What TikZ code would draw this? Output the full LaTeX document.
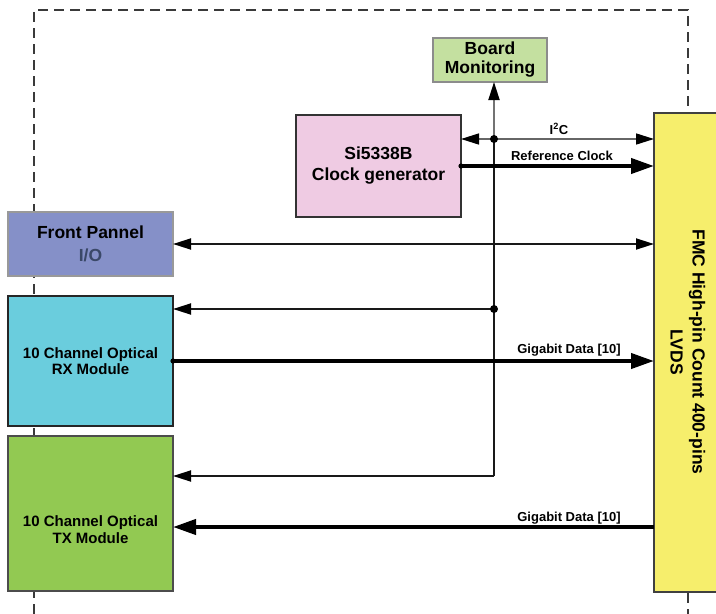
\documentclass[tikz,border=0pt]{standalone}
\usepackage{fontspec}
\setmainfont{Liberation Sans}
\usetikzlibrary{arrows.meta,calc}

\definecolor{monfill}{HTML}{C4E0A0}
\definecolor{clkfill}{HTML}{EFCBE3}
\definecolor{fpfill}{HTML}{8590C8}
\definecolor{rxfill}{HTML}{6ACDDD}
\definecolor{txfill}{HTML}{92C952}
\definecolor{fmcfill}{HTML}{F6EE6C}
\definecolor{iotext}{HTML}{3A4868}
\definecolor{framegray}{HTML}{3A3A3A}

\tikzset{
  blk/.style={draw, line width=1.3pt, inner sep=0pt, outer sep=0pt, anchor=north west,
              align=center, font=\fontsize{17.5}{21}\selectfont\bfseries},
  small/.style={font=\fontsize{15}{16.5}\selectfont\bfseries, align=center},
  lbl/.style={font=\fontsize{13}{15}\selectfont\bfseries, inner sep=0pt},
  tipthin/.style={-{Triangle[length=18pt,width=11pt,color=black]}},
  tipboth/.style={{Triangle[length=18pt,width=11pt,color=black]}-{Triangle[length=18pt,width=11pt,color=black]}},
  tipthick/.style={-{Triangle[length=23pt,width=15pt]}},
  conn/.style={line width=1.8pt, draw=black!90},
  fat/.style={line width=4pt, draw=black},
  frame/.style={draw=framegray, line width=1.6pt, dash pattern=on 10pt off 6pt}
}

\begin{document}
\begin{tikzpicture}[x=1pt,y=-1pt]
\useasboundingbox (0,0) rectangle (716,614);

% dashed board outline
\draw[frame] (34,12) -- (34,614);
\draw[frame] (38,10) -- (688,10) -- (688,113);
\draw[frame] (688,593) -- (688,614);

% blocks
\node[blk, draw=black!45, fill=monfill, minimum width=114pt, minimum height=44pt] (bm) at (433,38) {Board\\[-2pt]Monitoring};
\node[blk, draw=black!80, fill=clkfill, minimum width=165pt, minimum height=102pt] (clk) at (296,115) {Si5338B\\Clock generator};
\node[blk, draw=black!40, fill=fpfill, minimum width=165pt, minimum height=64pt] (fp) at (8,212) {Front Pannel\\[2pt]\textcolor{iotext}{I/O}};
\node[blk, draw=black!85, fill=rxfill, minimum width=165pt, minimum height=130pt, small] (rx) at (8,296) {10 Channel Optical\\RX Module};
\node[blk, draw=black!70, fill=txfill, minimum width=165pt, minimum height=155pt] (tx) at (8,436) {};
\node[small] (txtext) at (90.5,529.5) {10 Channel Optical\\TX Module};
\node[blk, draw=black!75, fill=fmcfill, minimum width=66pt, minimum height=479pt] (fmc) at (654,113) {};
\node[rotate=-90, align=center, font=\fontsize{17.5}{22}\selectfont\bfseries] (fmctext) at (688,352) {FMC High-pin Count 400-pins\\LVDS};

% junctions on the shared bus
\coordinate (j1) at (494,139);
\coordinate (j2) at (494,309);
\coordinate (j3) at (494,476);
\coordinate (rc) at (0,166);
\coordinate (txd) at (0,527);

% I2C bus
\draw[line width=1.5pt, draw=black!60, tipboth] (j1 -| clk.east) -- (j1 -| fmc.west);
\draw[line width=1.8pt, draw=black!55, tipthin] (j1) -- (bm.south -| j1);
\draw[conn] (j3) -- (j1);
\draw[conn, tipthin] (j2) -- (j2 -| rx.east);
\draw[conn, tipthin] (j3) -- (j3 -| tx.east);
\fill (j1) circle (4pt);
\fill (j2) circle (4pt);

% reference clock
\draw[fat, tipthick] (rc -| clk.east) -- (rc -| fmc.west);
\fill (rc -| clk.east) circle (2.6pt);

% front panel I/O
\draw[conn, tipboth] (fp.east) -- (fp.east -| fmc.west);

% gigabit data links
\draw[fat, tipthick] (rx.east) -- (rx.east -| fmc.west);
\fill (rx.east) circle (2.6pt);
\draw[fat, tipthick] (txd -| fmc.west) -- (txd -| tx.east);

% labels
\node[lbl] (li2c) at (559,129) {I\textsuperscript{2}C};
\node[lbl] (lrc) at (562,156) {Reference Clock};
\node[lbl] (lrx) at (569,350) {Gigabit Data [10]};
\node[lbl] (ltx) at (569,518) {Gigabit Data [10]};
\end{tikzpicture}
\end{document}
